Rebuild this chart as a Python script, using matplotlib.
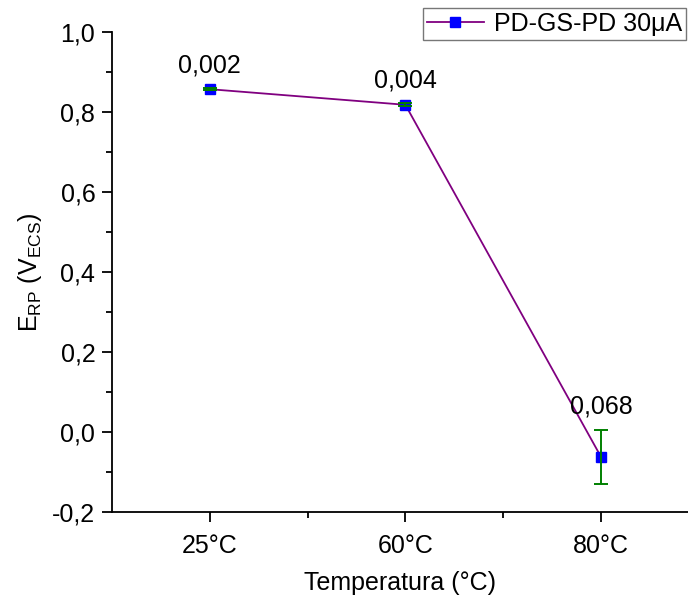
import matplotlib
matplotlib.use("Agg")
import matplotlib.pyplot as plt
from matplotlib.ticker import FuncFormatter, MultipleLocator, FixedLocator

plt.rcParams['font.family'] = ['Liberation Sans', 'DejaVu Sans']
plt.rcParams['mathtext.fontset'] = 'custom'
plt.rcParams['mathtext.rm'] = 'Liberation Sans'
plt.rcParams['mathtext.it'] = 'Liberation Sans:italic'

categories = ['25°C', '60°C', '80°C']
values = [0.857, 0.818, -0.062]
errors = [0.002, 0.004, 0.068]
err_labels = ['0,002', '0,004', '0,068']
series_name = 'PD-GS-PD 30μA'

FS = 18

fig = plt.figure(figsize=(6.88, 5.98), dpi=100)
ax = fig.add_axes([112/688, 1-512/598, 1-112/688, (512-32)/598])

x = list(range(1, len(categories)+1))
ax.plot(x, values, color='#800080', lw=1.3, zorder=2)
ax.errorbar(x, values, yerr=errors, fmt='none', ecolor='#008000', elinewidth=1.4,
            capsize=5, capthick=1.4, zorder=4)
ax.plot(x, values, ls='none', marker='s', ms=7.5, mfc='#0000ff', mec='#0000ff', zorder=3)
h, = ax.plot([], [], color='#800080', lw=1.3, marker='s', ms=7.5, mfc='#0000ff', mec='#0000ff')

for xi, v, e, lab in zip(x, values, errors, err_labels):
    ax.annotate(lab, (xi, v + e), xytext=(0, 8), textcoords='offset points',
                ha='center', va='bottom', fontsize=FS)

ax.set_xlim(0.5, 3.445)
ax.set_ylim(-0.2, 1.0)
ax.set_xticks(x)
ax.set_xticklabels(categories)
ax.xaxis.set_minor_locator(FixedLocator([1.5, 2.5]))
ax.yaxis.set_major_locator(MultipleLocator(0.2))
ax.yaxis.set_minor_locator(MultipleLocator(0.1))
ax.yaxis.set_major_formatter(FuncFormatter(lambda v, p: f"{v:.1f}".replace('.', ',').replace('-0,0', '0,0')))

for s in ['top', 'right']:
    ax.spines[s].set_visible(False)
for s in ['left', 'bottom']:
    ax.spines[s].set_linewidth(1.3)
ax.tick_params(which='major', direction='out', length=7, width=1.3, labelsize=FS, pad=5)
ax.tick_params(which='minor', direction='out', length=4, width=1.3)
ax.tick_params(axis='x', which='major', pad=9)

ax.set_xlabel('Temperatura (°C)', fontsize=FS, labelpad=9)
ax.set_ylabel(r'E$_{\mathrm{RP}}$ (V$_{\mathrm{ECS}}$)', fontsize=FS, labelpad=6)

leg = fig.legend([h], [series_name], loc='upper right', bbox_to_anchor=(686/688, 1-8/598),
                 fontsize=FS, frameon=True, fancybox=False, handlelength=2.3,
                 borderpad=0.15, handletextpad=0.4, borderaxespad=0)
leg.get_frame().set_edgecolor('#555555')
leg.get_frame().set_linewidth(1.0)

fig.savefig('out.png', dpi=100)
